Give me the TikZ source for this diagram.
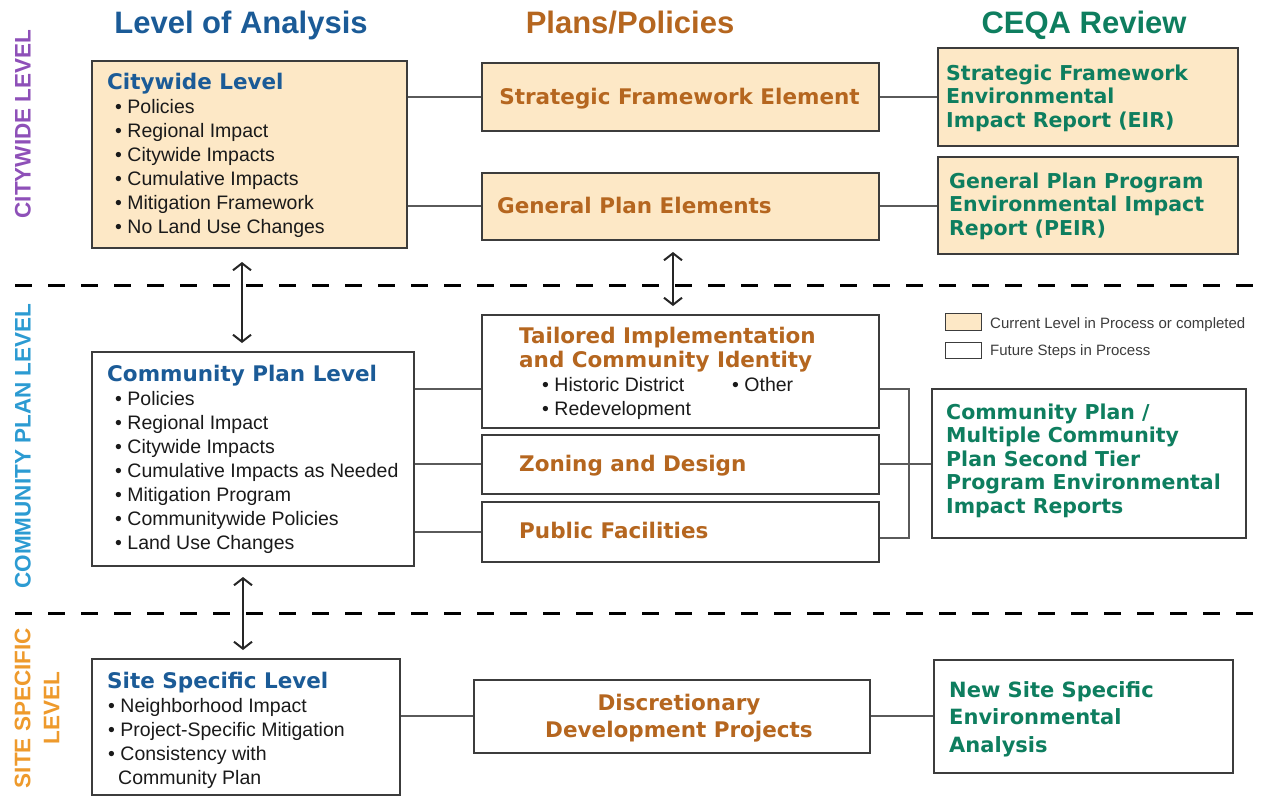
\documentclass[tikz,border=0pt]{standalone}
\usepackage{fontspec}
\setmainfont{Liberation Sans}
\newfontfamily\djv{DejaVu Sans}
\usetikzlibrary{arrows.meta}
\definecolor{peach}{HTML}{FDE8C6}
\definecolor{hblue}{HTML}{1B5B97}
\definecolor{horange}{HTML}{B5661F}
\definecolor{hgreen}{HTML}{0E7E5F}
\definecolor{lpurple}{HTML}{8E50B8}
\definecolor{lblue}{HTML}{2C9BD2}
\definecolor{lorange}{HTML}{EE9A2C}
\definecolor{framec}{HTML}{3C3C3C}
\definecolor{connc}{HTML}{5A5A5A}
\definecolor{bodyc}{HTML}{1A1A1A}
\newcommand\ttlf{\djv\bfseries\fontsize{21.5}{24}\selectfont}
\newcommand\grf{\djv\bfseries\fontsize{20.5}{23.5}\selectfont}
\newcommand\bodyf{\fontsize{19.5}{24}\selectfont}
\newcommand\bitem{\hspace*{8pt}•\ }
\tikzset{
  box/.style={draw=framec, line width=1.8pt, inner sep=0pt, anchor=north west},
  cur/.style={box, fill=peach},
  fut/.style={box, fill=white},
  conn/.style={draw=connc, line width=2pt},
  dbl/.style={{Straight Barb[length=7pt,width=18pt,line width=2pt]}-{Straight Barb[length=7pt,width=18pt,line width=2pt]}, line width=2pt, draw=black!85},
  divider/.style={line width=3pt, dash pattern=on 17pt off 16pt},
  hdr/.style={font=\bfseries\fontsize{31}{34}\selectfont, anchor=base, inner sep=0pt},
  side/.style={font=\bfseries\fontsize{22.5}{29}\selectfont, rotate=90, align=center, inner sep=0pt},
  ttl/.style={font=\ttlf, text=horange, inner sep=0pt},
  grn/.style={font=\grf, text=hgreen, align=left, inner sep=0pt, anchor=base west},
  body/.style={font=\bodyf, text=bodyc, align=left, inner sep=0pt, anchor=base west},
  legt/.style={font=\fontsize{15}{18}\selectfont, text=bodyc!85, inner sep=0pt, anchor=base west}
}
\begin{document}
\begin{tikzpicture}[x=1pt,y=-1pt]
\useasboundingbox (0,0) rectangle (1267,796);
% dividers
\draw[divider] (15,285) -- (1255,285);
\draw[divider] (15,613) -- (1255,613);
% headers
\node[hdr, text=hblue] (h1) at (241,33) {Level of Analysis};
\node[hdr, text=horange] (h2) at (630,33) {Plans/Policies};
\node[hdr, text=hgreen] (h3) at (1084,33) {CEQA Review};
% side labels
\node[side, text=lpurple] (s1) at (23,124) {CITYWIDE LEVEL};
\node[side, text=lblue] (s2) at (23,446) {COMMUNITY PLAN LEVEL};
\node[side, text=lorange] (s3) at (37,708) {SITE SPECIFIC\\LEVEL};
% boxes
\node[cur, minimum width=315pt, minimum height=187pt] (cw) at (91,60) {};
\node[cur, minimum width=397pt, minimum height=68pt] (sfe) at (481,62) {};
\node[cur, minimum width=397pt, minimum height=67pt] (gpe) at (481,172) {};
\node[cur, minimum width=300pt, minimum height=98pt] (sfeir) at (937,47) {};
\node[cur, minimum width=300pt, minimum height=97pt] (peir) at (937,156) {};
\node[fut, minimum width=322pt, minimum height=214pt] (cp) at (91,351) {};
\node[fut, minimum width=397pt, minimum height=113pt] (tail) at (481,314) {};
\node[fut, minimum width=397pt, minimum height=59pt] (zon) at (481,434) {};
\node[fut, minimum width=397pt, minimum height=60pt] (pub) at (481,501) {};
\node[fut, minimum width=314pt, minimum height=149pt] (cpeir) at (931,388) {};
\node[fut, minimum width=308pt, minimum height=136pt] (site) at (91,658) {};
\node[fut, minimum width=396pt, minimum height=73pt] (disc) at (473,679) {};
\node[fut, minimum width=299pt, minimum height=113pt] (nsite) at (933,659) {};
% legend
\node[cur, line width=1.2pt, minimum width=36pt, minimum height=17pt] (lg1) at (945,313) {};
\node[fut, line width=1.2pt, minimum width=36pt, minimum height=16pt] (lg2) at (945,342) {};
\node[legt] (lt1) at (990,328) {Current Level in Process or completed};
\node[legt] (lt2) at (990,355) {Future Steps in Process};
% box texts (multi-line nodes are placed by the baseline of their last line)
\node[body] (cwt) at (107,233) {{\ttlf\color{hblue}Citywide Level}\\
\bitem Policies\\ \bitem Regional Impact\\ \bitem Citywide Impacts\\
\bitem Cumulative Impacts\\ \bitem Mitigation Framework\\ \bitem No Land Use Changes};
\node[body] (cpt) at (107,549) {{\ttlf\color{hblue}Community Plan Level}\\
\bitem Policies\\ \bitem Regional Impact\\ \bitem Citywide Impacts\\
\bitem Cumulative Impacts as Needed\\ \bitem Mitigation Program\\
\bitem Communitywide Policies\\ \bitem Land Use Changes};
\node[body] (sitet) at (107,784) {{\ttlf\color{hblue}Site Specific Level}\\
\hspace*{1pt}• Neighborhood Impact\\ \hspace*{1pt}• Project-Specific Mitigation\\
\hspace*{1pt}• Consistency with\\ \hspace*{11pt}Community Plan};
\node[ttl, anchor=base] (sfet) at (679.5,104) {Strategic Framework Element};
\node[ttl, anchor=base west] (gpet) at (497,213) {General Plan Elements};
\node[ttl, anchor=base west, align=left] (tailt) at (519,367) {Tailored Implementation\\and Community Identity};
\node[body] (tailb) at (542,415) {• Historic District\\• Redevelopment};
\node[body] (tailo) at (732,391) {• Other};
\node[ttl, anchor=base west] (zont) at (519,471) {Zoning and Design};
\node[ttl, anchor=base west] (pubt) at (519,538) {Public Facilities};
\node[ttl, align=center, anchor=base, font=\djv\bfseries\fontsize{21.5}{27}\selectfont] (disct) at (679,737) {Discretionary\\Development Projects};
\node[grn] (sfeirt) at (946,127) {Strategic Framework\\Environmental\\Impact Report (EIR)};
\node[grn] (peirt) at (949,235) {General Plan Program\\Environmental Impact\\Report (PEIR)};
\node[grn] (cpeirt) at (946,513) {Community Plan /\\Multiple Community\\Plan Second Tier\\Program Environmental\\Impact Reports};
\node[grn, font=\djv\bfseries\fontsize{21}{27.5}\selectfont] (nsitet) at (949,752) {New Site Specific\\Environmental\\Analysis};
% connectors
\draw[conn] (cw.east |- sfe.west) -- (sfe.west);
\draw[conn] (cw.east |- gpe.west) -- (gpe.west);
\draw[conn] (sfe.east) -- (sfe.east -| sfeir.west);
\draw[conn] (gpe.east) -- (gpe.east -| peir.west);
\coordinate (tl) at ([yshift=-17.5pt]tail.west);
\coordinate (tr) at ([yshift=-17.5pt]tail.east);
\coordinate (pr) at ([yshift=-6pt]pub.east);
\draw[conn] (cp.east |- tl) -- (tl);
\draw[conn] (cp.east |- zon.west) -- (zon.west);
\draw[conn] (cp.east |- pub.west) -- (pub.west);
\draw[conn] (tr) -- ++(29,0) |- (pr);
\draw[conn] (zon.east) -- (zon.east -| cpeir.west);
\draw[conn] (site.east |- disc.west) -- (disc.west);
\draw[conn] (disc.east) -- (disc.east -| nsite.west);
% arrows
\coordinate (a1t) at (242,262);
\coordinate (a1b) at (242,343);
\coordinate (a2t) at (673,252);
\coordinate (a2b) at (673,306);
\coordinate (a3t) at (243,577);
\coordinate (a3b) at (243,650);
\draw[dbl] (a1t) -- (a1b);
\draw[dbl] (a2t) -- (a2b);
\draw[dbl] (a3t) -- (a3b);
\end{tikzpicture}
\end{document}
